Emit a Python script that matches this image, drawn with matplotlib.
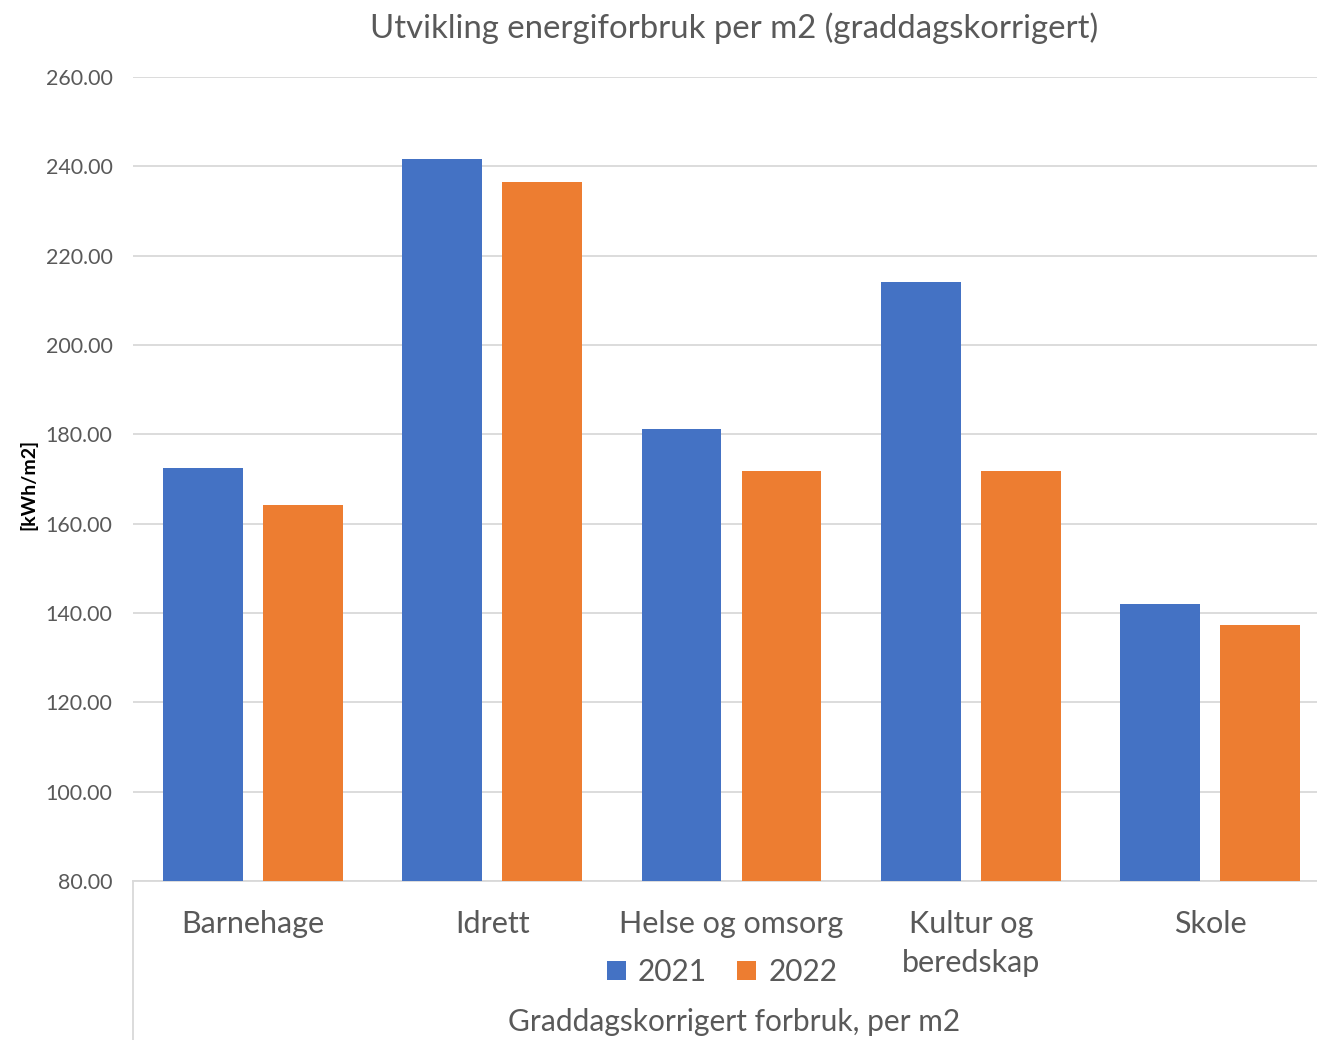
import matplotlib
matplotlib.use("Agg")
import matplotlib.pyplot as plt
import numpy as np
from matplotlib.lines import Line2D

# data
categories = ["Barnehage", "Idrett", "Helse og omsorg", "Kultur og\nberedskap", "Skole"]
values_2021 = [172.5, 241.7, 181.3, 214.0, 142.0]
values_2022 = [164.2, 236.4, 171.8, 171.8, 137.4]
series_names = ["2021", "2022"]
y_ticks = [80, 100, 120, 140, 160, 180, 200, 220, 240, 260]

BLUE = "#4472C4"
ORANGE = "#ED7D31"
GREY_TXT = "#595959"
GRID = "#D9D9D9"

plt.rcParams["font.family"] = ["Lato", "DejaVu Sans"]

W, H = 1317, 1040
fig = plt.figure(figsize=(W / 100, H / 100), dpi=100)

# plot area in pixel terms, converted to figure fractions
left_px, right_px, top_px, bottom_px = 133.4, 1329.6, 77, 881
ax = fig.add_axes([left_px / W, 1 - bottom_px / H,
                   (right_px - left_px) / W, (bottom_px - top_px) / H])

x = np.arange(len(categories))
bw = 0.334
off = 0.209
ax.bar(x - off, values_2021, bw, color=BLUE, label=series_names[0], zorder=3)
ax.bar(x + off, values_2022, bw, color=ORANGE, label=series_names[1], zorder=3)

ax.set_xlim(-0.5, len(categories) - 0.5)
ax.set_ylim(80, 260)
ax.set_yticks(y_ticks)
ax.set_yticklabels([f"{t:.2f}" for t in y_ticks], color=GREY_TXT, fontsize=15.4)
ax.yaxis.grid(True, color=GRID, linewidth=1.3, zorder=0)
ax.set_axisbelow(True)
ax.tick_params(axis="y", length=0, pad=15)

ax.set_xticks(x)
ax.set_xticklabels(categories, color=GREY_TXT, fontsize=22, linespacing=1.45, va="top")
ax.tick_params(axis="x", length=0, pad=21)

for s in ["top", "right", "left"]:
    ax.spines[s].set_visible(False)
ax.spines["bottom"].set_color(GRID)
ax.spines["bottom"].set_linewidth(1.3)

# vertical divider below the category axis
fig.add_artist(Line2D([left_px / W, left_px / W], [0, 1 - bottom_px / H],
                      transform=fig.transFigure, color=GRID, linewidth=1.3))

fig.text(734 / W, 1 - 28 / H, "Utvikling energiforbruk per m2 (graddagskorrigert)",
         ha="center", va="center", fontsize=23.7, color=GREY_TXT)

fig.text(28 / W, 1 - 484 / H, "[kWh/m2]", rotation=90, ha="center", va="center",
         fontsize=14, fontweight="bold", color="black")

fig.text(734 / W, 1 - 1022 / H, "Graddagskorrigert forbruk, per m2",
         ha="center", va="center", fontsize=21.5, color=GREY_TXT)

ax.legend(loc="center", bbox_to_anchor=(722 / W, 1 - 972 / H),
          bbox_transform=fig.transFigure, ncol=2, frameon=False,
          fontsize=21.5, labelcolor=GREY_TXT, handlelength=0.65, handleheight=0.65,
          handletextpad=0.4, columnspacing=1.0)

fig.savefig("out.png", dpi=100)
